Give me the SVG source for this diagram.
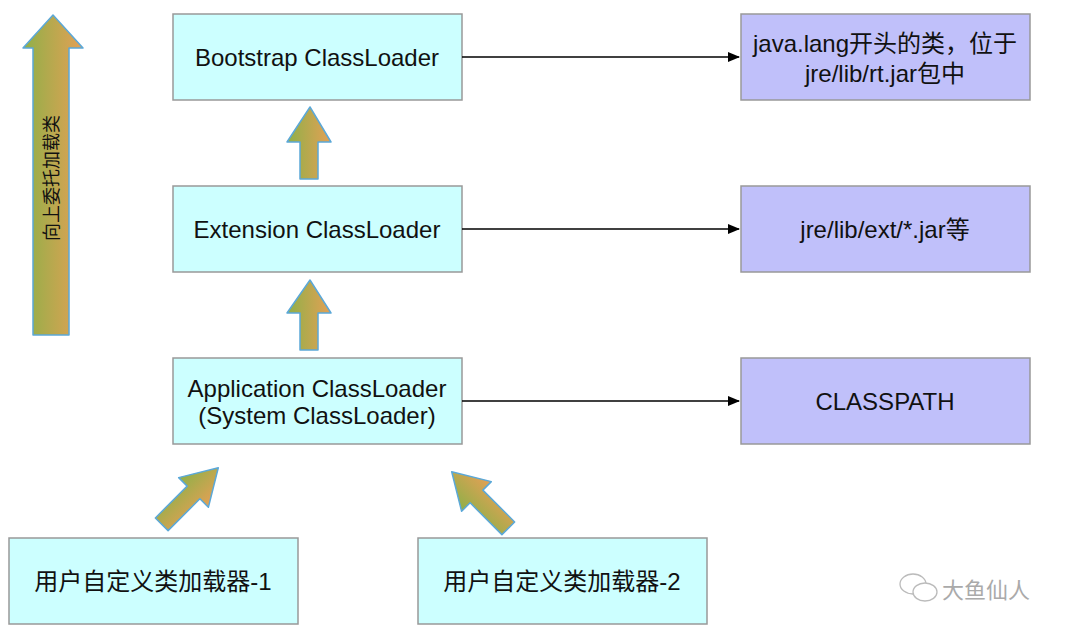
<svg xmlns="http://www.w3.org/2000/svg" width="1080" height="637" viewBox="0 0 1080 637">
<style>
.cl{fill:#ccffff;stroke:#999;stroke-width:1.5}
.rb{fill:#c0c0fa;stroke:#999;stroke-width:1.5}
.t{font-family:"Liberation Sans","Noto Sans CJK SC",sans-serif;font-size:24px;fill:#111;text-anchor:middle;dominant-baseline:central}
.ar{fill:url(#g);stroke:#5ba8d8;stroke-width:1.5;stroke-linejoin:round}
.ln{stroke:#000;stroke-width:1.3;fill:none;marker-end:url(#m)}
</style>
<defs>
<linearGradient id="g" x1="0" y1="0" x2="1" y2="0"><stop offset="0" stop-color="#8fb048"/><stop offset="1" stop-color="#e4a055"/></linearGradient>
<marker id="m" markerWidth="12" markerHeight="10" refX="11" refY="5" orient="auto" markerUnits="userSpaceOnUse"><path d="M0,0 L12,5 L0,10 z" fill="#000"/></marker>
</defs>
<g id="bigarrow"><path class="ar" d="M53,15 L83,48 L69,48 L69,335 L33,335 L33,48 L23,48 Z"/>
<text class="t" transform="translate(52,178) rotate(-90)" style="font-size:18px">向上委托加载类</text></g>
<g id="bootstrap"><rect class="cl" x="173" y="14" width="289" height="86"/><text class="t" x="317" y="57">Bootstrap ClassLoader</text></g>
<g id="extension"><rect class="cl" x="173" y="186" width="289" height="86"/><text class="t" x="317" y="229">Extension ClassLoader</text></g>
<g id="application"><rect class="cl" x="173" y="358" width="289" height="86"/><text class="t" x="317" y="388">Application ClassLoader</text><text class="t" x="317" y="415">(System ClassLoader)</text></g>
<g id="rt"><rect class="rb" x="741" y="14" width="289" height="86"/><text class="t" x="885" y="43">java.lang开头的类，位于</text><text class="t" x="885" y="73">jre/lib/rt.jar包中</text></g>
<g id="ext"><rect class="rb" x="741" y="186" width="289" height="86"/><text class="t" x="885" y="229">jre/lib/ext/*.jar等</text></g>
<g id="cp"><rect class="rb" x="741" y="358" width="289" height="86"/><text class="t" x="885" y="401">CLASSPATH</text></g>
<g id="user1"><rect class="cl" x="9" y="538" width="289" height="86"/><text class="t" x="153" y="581">用户自定义类加载器-1</text></g>
<g id="user2"><rect class="cl" x="418" y="538" width="289" height="86"/><text class="t" x="562" y="581">用户自定义类加载器-2</text></g>
<g id="connectors">
<line class="ln" x1="462" y1="57" x2="739" y2="57"/>
<line class="ln" x1="462" y1="229" x2="739" y2="229"/>
<line class="ln" x1="462" y1="401" x2="739" y2="401"/>
<path class="ar" d="M310,107 L331,142 L318,142 L318,179 L300,179 L300,142 L287,142 Z"/>
<path class="ar" d="M310,280 L331,313 L318,313 L318,350 L300,350 L300,313 L287,313 Z"/>
<path class="ar" transform="rotate(45 190 496)" d="M190,456 L211,491 L199,491 L199,536 L181,536 L181,491 L169,491 Z"/>
<path class="ar" transform="rotate(-45 480 500)" d="M480,460 L501,495 L489,495 L489,540 L471,540 L471,495 L459,495 Z"/>
</g>
<g id="watermark">
<ellipse cx="913" cy="584" rx="13" ry="10" fill="none" stroke="#bbb" stroke-width="1.3"/>
<ellipse cx="925" cy="592" rx="12" ry="9" fill="#fff" stroke="#bbb" stroke-width="1.3"/>
<text x="942" y="598" style="font-family:'Noto Sans CJK SC',sans-serif;font-size:22px;fill:#aaa">大鱼仙人</text>
</g>
</svg>
